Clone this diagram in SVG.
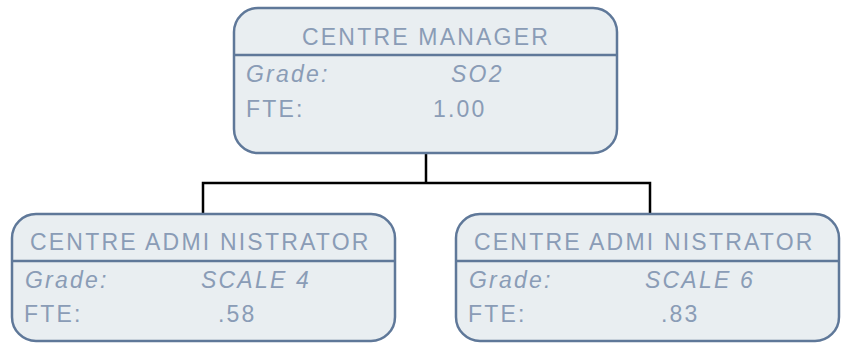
<svg xmlns="http://www.w3.org/2000/svg" width="842" height="343" viewBox="0 0 842 343">
<style>
.box{fill:#e9eef1;stroke:#5f7899;stroke-width:2.5}
.div{stroke:#5f7899;stroke-width:2.5}
.t{font-family:"Liberation Sans",Arial,sans-serif;fill:#8a9cb6;font-size:23px;letter-spacing:2.2px}
.title{font-size:23px;letter-spacing:2.2px}
.i{font-style:italic}
.conn{fill:none;stroke:#000;stroke-width:2.5}
</style>
<rect width="842" height="343" fill="#fff"/>
<g id="connectors">
<path class="conn" d="M426 153 V183 M203 214 V183 H650 V214"/>
</g>
<g id="manager">
<rect class="box" x="234" y="8" width="383" height="145" rx="24"/>
<line class="div" x1="234" y1="55" x2="617" y2="55"/>
<text class="t title" x="302" y="45">CENTRE MANAGER</text>
<text class="t i" x="246" y="82">Grade:</text>
<text class="t i" x="451" y="82">SO2</text>
<text class="t" x="246" y="117">FTE:</text>
<text class="t" x="433" y="117">1.00</text>
</g>
<g id="admin1">
<rect class="box" x="12" y="214" width="383" height="127" rx="24"/>
<line class="div" x1="12" y1="261" x2="395" y2="261"/>
<text class="t title" x="30" y="250">CENTRE ADMI NISTRATOR</text>
<text class="t i" x="25" y="288">Grade:</text>
<text class="t i" x="201" y="288">SCALE 4</text>
<text class="t" x="24" y="322">FTE:</text>
<text class="t" x="218" y="322">.58</text>
</g>
<g id="admin2">
<rect class="box" x="456" y="214" width="383" height="127" rx="24"/>
<line class="div" x1="456" y1="261" x2="839" y2="261"/>
<text class="t title" x="474" y="250">CENTRE ADMI NISTRATOR</text>
<text class="t i" x="469" y="288">Grade:</text>
<text class="t i" x="645" y="288">SCALE 6</text>
<text class="t" x="468" y="322">FTE:</text>
<text class="t" x="661" y="322">.83</text>
</g>
</svg>
